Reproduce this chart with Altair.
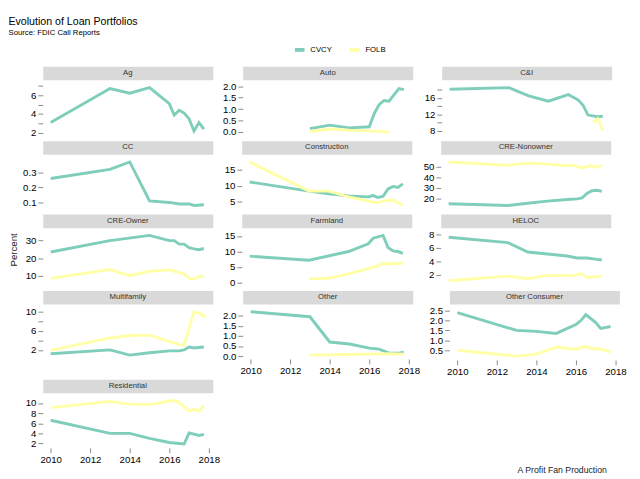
import altair as alt
import pandas as pd

panels = ["Ag", "Auto", "C&I", "CC", "Construction", "CRE-Nonowner", "CRE-Owner",
          "Farmland", "HELOC", "Multifamily", "Other", "Other Consumer", "Residential"]

cvcy = {
    "Ag": ([2010, 2013, 2014, 2015, 2016, 2016.25, 2016.5, 2016.75, 2017, 2017.25, 2017.5, 2017.75],
           [3.1, 6.7, 6.2, 6.8, 5.1, 3.9, 4.4, 4.1, 3.5, 2.2, 3.1, 2.4]),
    "Auto": ([2013, 2014, 2015, 2016, 2016.25, 2016.5, 2016.75, 2017, 2017.5, 2017.75],
             [0.15, 0.3, 0.18, 0.23, 0.8, 1.2, 1.38, 1.35, 1.9, 1.85]),
    "C&I": ([2010, 2013, 2014, 2015, 2016, 2016.5, 2016.75, 2017, 2017.25, 2017.5, 2017.75],
            [18.1, 18.5, 16.5, 15.2, 16.8, 15.5, 14.2, 11.8, 11.6, 11.4, 11.5]),
    "CC": ([2010, 2013, 2014, 2015, 2016, 2016.5, 2017, 2017.25, 2017.75],
           [0.26, 0.32, 0.37, 0.11, 0.10, 0.09, 0.09, 0.08, 0.085]),
    "Construction": ([2010, 2013, 2014, 2015, 2016, 2016.25, 2016.5, 2016.75, 2017, 2017.25, 2017.5, 2017.75],
                     [11.2, 8.3, 7.5, 6.8, 6.5, 6.9, 6.3, 6.7, 9.0, 9.8, 9.5, 10.6]),
    "CRE-Nonowner": ([2010, 2013, 2014, 2015, 2016, 2016.5, 2016.75, 2017, 2017.25, 2017.5, 2017.75],
                     [15.5, 14, 16, 18, 19.5, 20, 21, 25, 27.5, 28, 27]),
    "CRE-Owner": ([2010, 2013, 2015, 2016, 2016.25, 2016.5, 2016.75, 2017, 2017.25, 2017.5, 2017.75],
                  [23.5, 30, 33, 30, 30, 28, 28, 26, 25.3, 24.8, 25.5]),
    "Farmland": ([2010, 2013, 2015, 2016, 2016.25, 2016.75, 2017, 2017.25, 2017.5, 2017.75],
                 [8.5, 7.2, 10, 12.5, 14.3, 15.2, 11.3, 10.2, 10, 9.4]),
    "HELOC": ([2010, 2013, 2014, 2015, 2016, 2016.5, 2017, 2017.5, 2017.75],
              [7.6, 6.8, 5.4, 5.1, 4.8, 4.5, 4.5, 4.3, 4.2]),
    "Multifamily": ([2010, 2013, 2014, 2015, 2016, 2016.5, 2016.75, 2017, 2017.25, 2017.75],
                    [1.2, 2.0, 0.9, 1.4, 1.8, 1.8, 2.0, 2.6, 2.4, 2.6]),
    "Other": ([2010, 2013, 2014, 2015, 2016, 2016.5, 2017, 2017.5, 2017.75],
              [2.2, 1.95, 0.7, 0.6, 0.4, 0.35, 0.15, 0.15, 0.2]),
    "Other Consumer": ([2010, 2013, 2014, 2015, 2016, 2016.25, 2016.5, 2017, 2017.25, 2017.75],
                       [2.4, 1.5, 1.45, 1.35, 1.8, 2.0, 2.3, 1.9, 1.6, 1.7]),
    "Residential": ([2010, 2013, 2014, 2015, 2016, 2016.75, 2017, 2017.5, 2017.75],
                    [6.6, 4.0, 4.0, 3.0, 2.2, 1.9, 4.1, 3.6, 3.8]),
}
folb = {
    "Auto": ([2013, 2014, 2015, 2016, 2017], [0.02, 0.13, 0.08, 0.05, 0.0]),
    "C&I": ([2017.25, 2017.5, 2017.75], [10.0, 10.9, 7.9]),
    "Construction": ([2010, 2013, 2014, 2015, 2016, 2016.5, 2016.75, 2017.25, 2017.75],
                     [17.5, 8.3, 8.3, 6.5, 5.2, 4.6, 5.2, 5.5, 3.8]),
    "CRE-Nonowner": ([2010, 2013, 2014, 2015, 2016, 2016.25, 2016.75, 2017, 2017.25, 2017.5, 2017.75],
                     [54, 51, 53, 52, 50.5, 51, 48.5, 50, 50.5, 49, 51]),
    "CRE-Owner": ([2010, 2013, 2014, 2015, 2016, 2016.75, 2017, 2017.25, 2017.5, 2017.75],
                  [8.5, 13.5, 10, 12.5, 13.3, 11, 8.5, 8.2, 9.3, 9.8]),
    "Farmland": ([2013, 2014, 2015, 2016, 2016.5, 2016.75, 2017, 2017.75],
                 [1.2, 1.4, 2.8, 4.5, 5.4, 6.2, 6.0, 6.3]),
    "HELOC": ([2010, 2013, 2014, 2015, 2016, 2016.25, 2016.5, 2016.75, 2017, 2017.75],
              [1.1, 1.8, 1.4, 1.9, 1.9, 1.8, 2.1, 2.1, 1.6, 1.8]),
    "Multifamily": ([2010, 2013, 2014, 2015, 2016.5, 2016.75, 2017.25, 2017.5, 2017.75, 2017.85],
                    [1.9, 4.5, 5.0, 5.1, 3.1, 3.0, 10.0, 9.7, 9.0, 9.3]),
    "Other": ([2013, 2015, 2016, 2017, 2017.75], [0.05, 0.08, 0.1, 0.12, 0.1]),
    "Other Consumer": ([2010, 2013, 2014, 2015, 2016, 2016.5, 2016.75, 2017.25, 2017.75],
                       [0.5, 0.2, 0.3, 0.65, 0.55, 0.7, 0.6, 0.55, 0.4]),
    "Residential": ([2010, 2013, 2014, 2015, 2016, 2016.25, 2016.5, 2017, 2017.25, 2017.5, 2017.75],
                    [9.1, 10.3, 9.8, 9.7, 10.4, 10.5, 10.1, 8.4, 8.8, 8.4, 9.4]),
}
x_ticks = [2010, 2012, 2014, 2016, 2018]

rows = []
for name, d in (("CVCY", cvcy), ("FOLB", folb)):
    for p, (xs, ys) in d.items():
        for x, y in zip(xs, ys):
            rows.append({"panel": p, "bank": name, "year": x, "value": y})
df = pd.DataFrame(rows)

W, H = 176, 53
color = alt.Color("bank:N", scale=alt.Scale(domain=["CVCY", "FOLB"], range=["#7fcdbb", "#ffffa8"]),
                  legend=alt.Legend(title=None, orient="none", legendX=290, legendY=-24, direction="horizontal",
                                    symbolType="stroke", symbolStrokeWidth=4, labelFontSize=8))
bottom = {"Residential", "Other", "Other Consumer"}

def panel(p, first):
    strip = alt.Chart(pd.DataFrame({"t": [p]})).mark_text(fontSize=8, color="#333").encode(
        text="t:N").properties(width=W, height=14, view=alt.ViewConfig(fill="#d9d9d9", stroke="transparent"))
    xs = alt.Scale(domain=[2009.6, 2018.2], nice=False)
    if p in bottom:
        xenc = alt.X("year:Q", scale=xs, axis=alt.Axis(values=x_ticks, format="d", title=None,
                                                       domain=False, grid=False))
    else:
        xenc = alt.X("year:Q", scale=xs, axis=None)
    plot = alt.Chart(df[df.panel == p]).mark_line(strokeWidth=3).encode(
        x=xenc,
        y=alt.Y("value:Q", scale=alt.Scale(zero=False, nice=False, padding=4), title=None,
                axis=alt.Axis(tickCount=4, domain=False, grid=False, minExtent=14 if first else 20)),
        color=color,
    ).properties(width=W, height=H, view=alt.ViewConfig(stroke="transparent"))
    return alt.vconcat(strip, plot, spacing=0)

grid_rows = []
for i in range(0, len(panels), 3):
    grid_rows.append(alt.hconcat(*[panel(p, j == 0) for j, p in enumerate(panels[i:i + 3])], spacing=8))
grid = alt.vconcat(*grid_rows, spacing=1)

ylab = alt.Chart(pd.DataFrame({"t": ["Percent"]})).mark_text(angle=270, fontSize=10, color="#222").encode(
    text="t:N").properties(width=2, height=380, view=alt.ViewConfig(stroke="transparent"))

main = alt.hconcat(ylab, grid, spacing=2)
caption = alt.Chart(pd.DataFrame({"t": ["A Profit Fan Production"]})).mark_text(
    fontSize=9, align="right", color="#222").encode(text="t:N", x=alt.value(615)).properties(
    width=600, height=8, view=alt.ViewConfig(stroke="transparent"))

chart = alt.vconcat(main, caption, spacing=0).properties(
    title=alt.Title("Evolution of Loan Portfolios", subtitle="Source: FDIC Call Reports",
                    anchor="start", fontSize=11, fontWeight="normal", subtitleFontSize=8, offset=6)
).configure_view(stroke="transparent").configure_axis(
    labelFontSize=7, labelColor="#555", tickColor="#555", tickSize=3, labelPadding=2
).configure(font="Liberation Sans", padding={"left": 0, "top": 0, "right": 5, "bottom": 0})

chart.save("out.html", embed_options={"renderer": "svg", "actions": False})
